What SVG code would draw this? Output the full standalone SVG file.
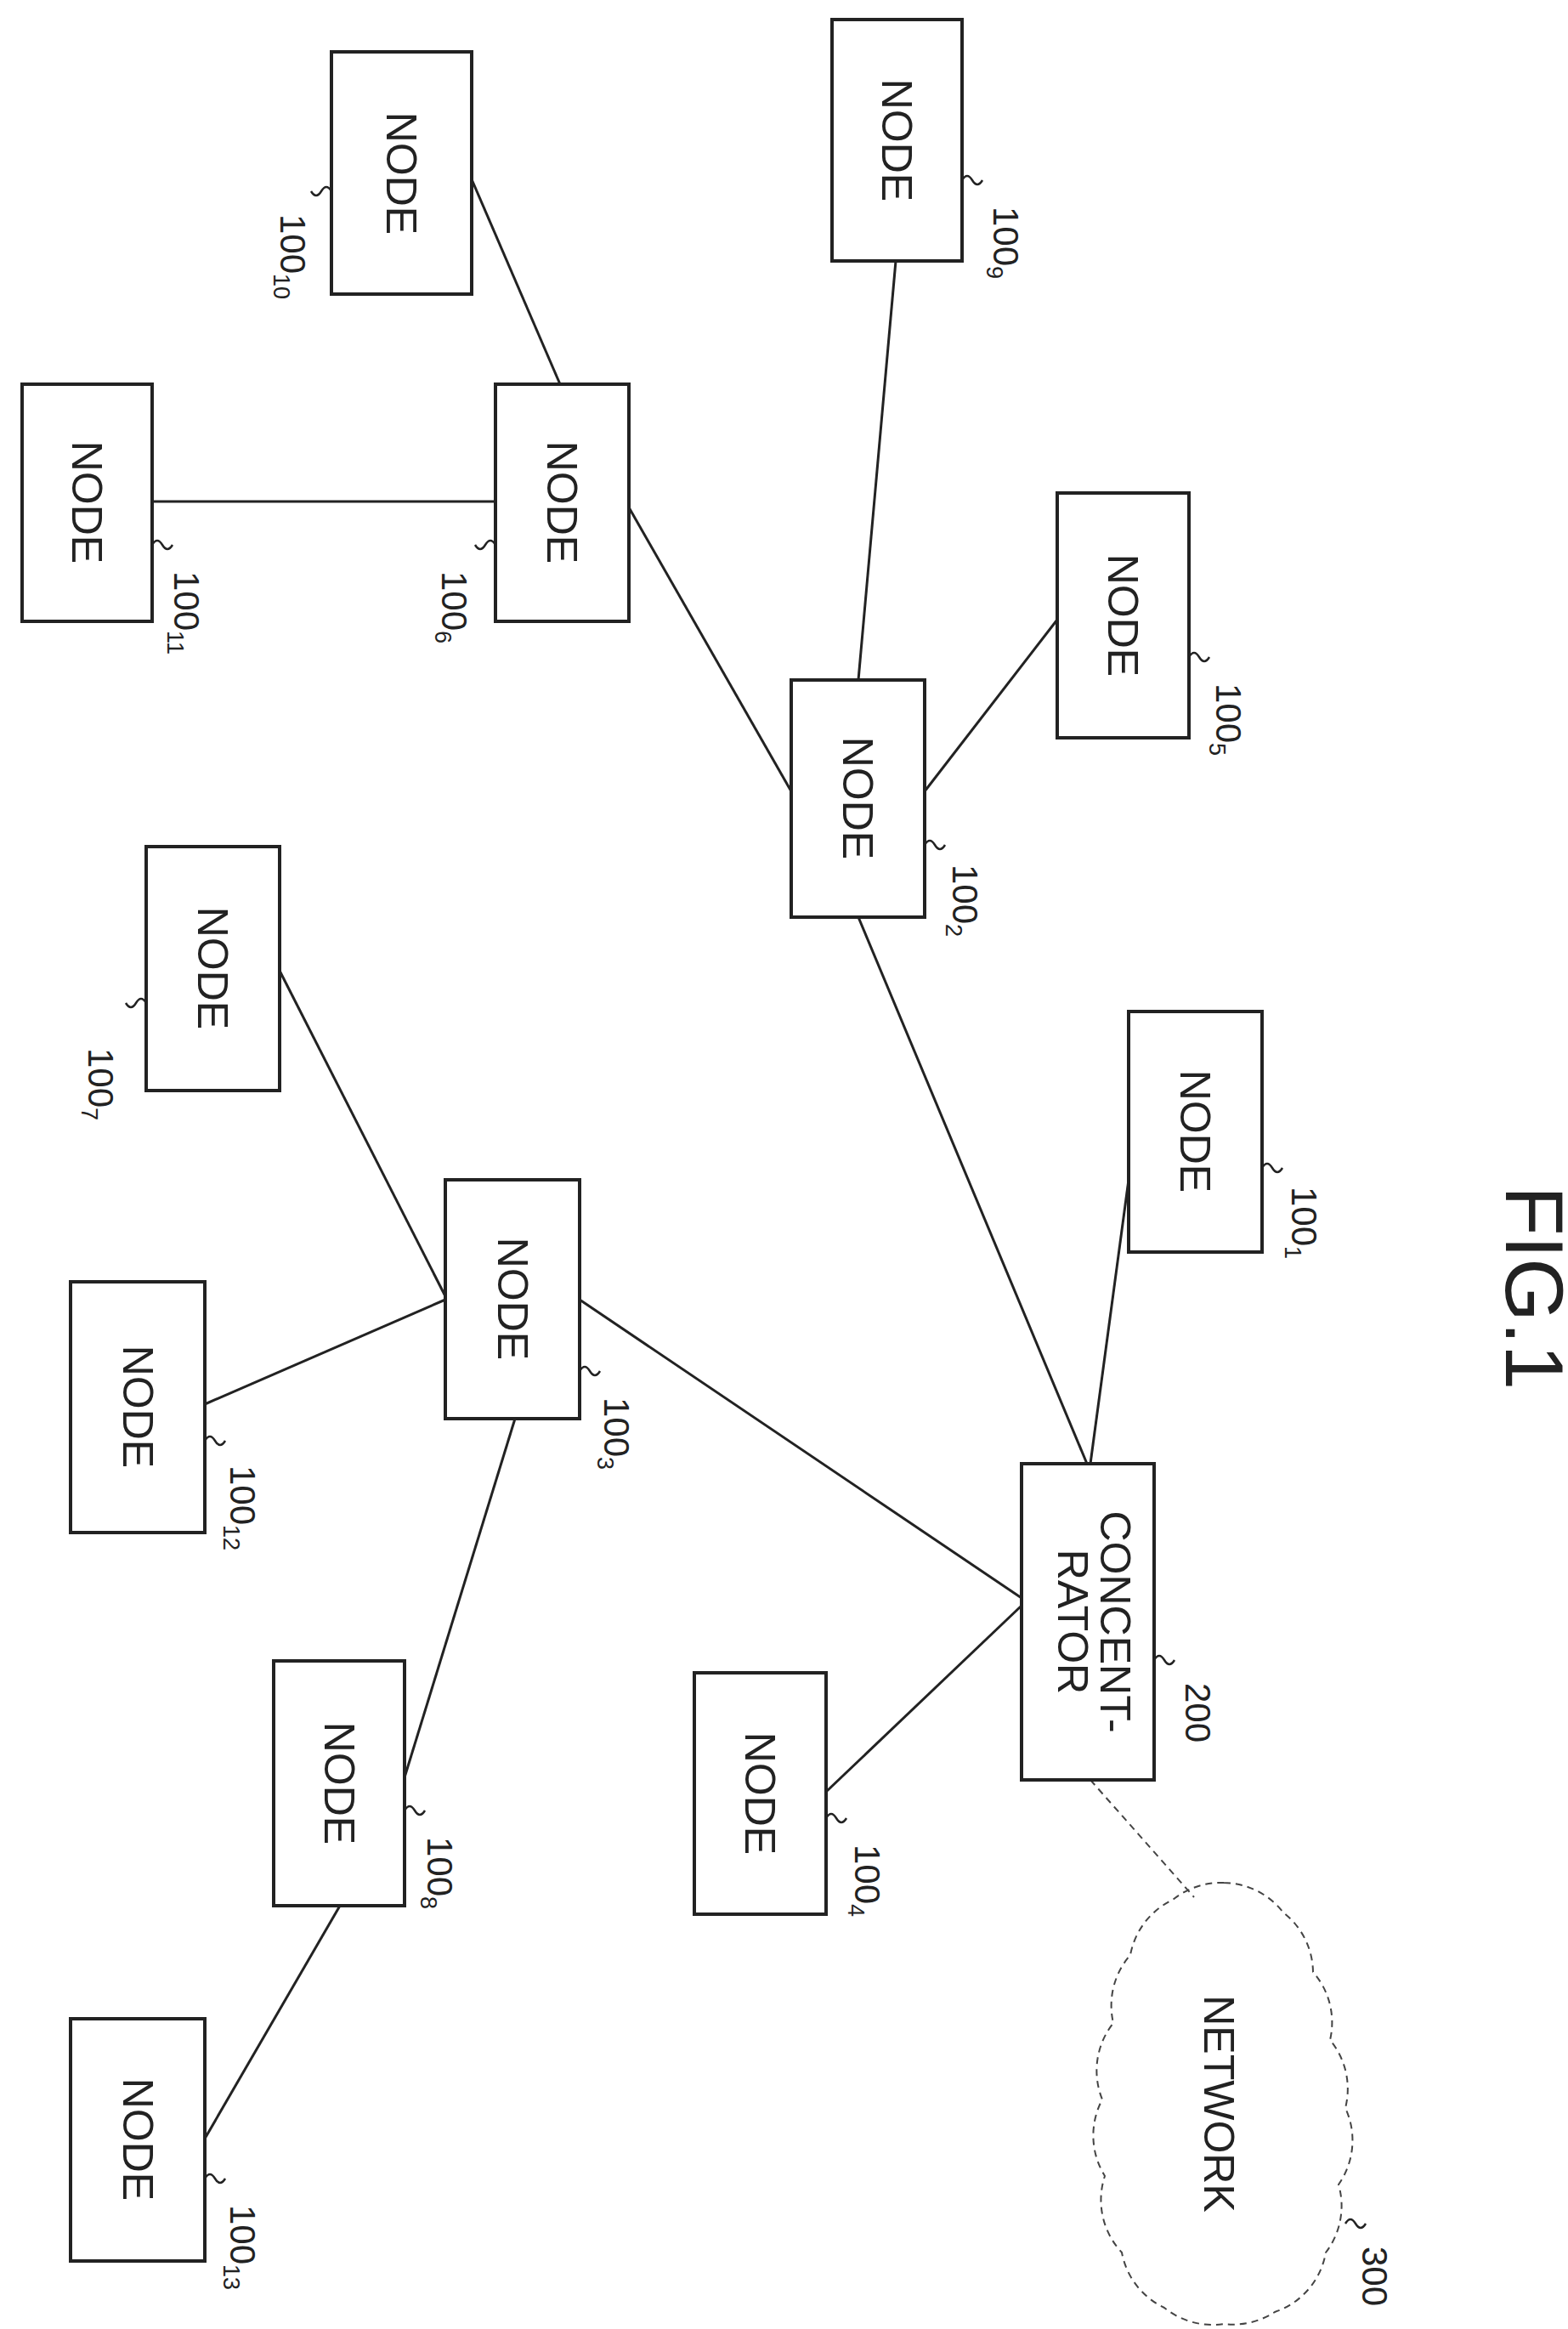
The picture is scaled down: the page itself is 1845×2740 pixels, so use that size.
<svg xmlns="http://www.w3.org/2000/svg" width="1845" height="2740" viewBox="0 0 1845 2740">
<style>
.b{fill:#fff;stroke:#222;stroke-width:4}
.t{font-family:"Liberation Sans",Arial,sans-serif;font-size:50px;fill:#222;text-anchor:middle}
.l{font-family:"Liberation Sans",Arial,sans-serif;font-size:42px;fill:#222}
.s{font-size:27px}
.c{stroke:#222;stroke-width:3;fill:none}
.q{stroke:#222;stroke-width:2.5;fill:none}
.d{stroke:#444;stroke-width:2;fill:none;stroke-dasharray:8 6}
</style>
<rect width="1845" height="2740" fill="#fff"/>
<g id="connectors">
<line class="c" x1="555" y1="211" x2="659" y2="452"/>
<line class="c" x1="179" y1="590" x2="583" y2="590"/>
<line class="c" x1="740" y1="597" x2="931" y2="931"/>
<line class="c" x1="1054" y1="307" x2="1010" y2="800"/>
<line class="c" x1="1244" y1="729" x2="1088" y2="931"/>
<line class="c" x1="1010" y1="1079" x2="1279" y2="1722"/>
<line class="c" x1="1328" y1="1388" x2="1283" y2="1722"/>
<line class="c" x1="329" y1="1142" x2="524" y2="1525"/>
<line class="c" x1="241" y1="1652" x2="524" y2="1529"/>
<line class="c" x1="682" y1="1529" x2="1202" y2="1880"/>
<line class="c" x1="606" y1="1669" x2="476" y2="2091"/>
<line class="c" x1="972" y1="2108" x2="1202" y2="1889"/>
<line class="c" x1="400" y1="2242" x2="241" y2="2516"/>
<line class="d" x1="1283" y1="2094" x2="1405" y2="2232"/>
</g>
<g id="n10"><rect class="b" x="390" y="61" width="165" height="285"/><text class="t" transform="translate(472,204) rotate(90)" dy="0.35em">NODE</text>
<path class="q" d="M390,225 q-6,-10 -12,0 q-6,10 -12,0"/><text class="l" transform="translate(345,252) rotate(90)" dy="0.35em">100<tspan class="s" dy="8">10</tspan></text></g>
<g id="n9"><rect class="b" x="979" y="23" width="153" height="284"/><text class="t" transform="translate(1055,165) rotate(90)" dy="0.35em">NODE</text>
<path class="q" d="M1132,212 q6,-10 12,0 q6,10 12,0"/><text class="l" transform="translate(1184,243) rotate(90)" dy="0.35em">100<tspan class="s" dy="8">9</tspan></text></g>
<g id="n11"><rect class="b" x="26" y="452" width="153" height="279"/><text class="t" transform="translate(102,591) rotate(90)" dy="0.35em">NODE</text>
<path class="q" d="M179,641 q6,-10 12,0 q6,10 12,0"/><text class="l" transform="translate(220,672) rotate(90)" dy="0.35em">100<tspan class="s" dy="8">11</tspan></text></g>
<g id="n6"><rect class="b" x="583" y="452" width="157" height="279"/><text class="t" transform="translate(661,591) rotate(90)" dy="0.35em">NODE</text>
<path class="q" d="M583,641 q-6,-10 -12,0 q-6,10 -12,0"/><text class="l" transform="translate(535,672) rotate(90)" dy="0.35em">100<tspan class="s" dy="8">6</tspan></text></g>
<g id="n5"><rect class="b" x="1244" y="580" width="155" height="288"/><text class="t" transform="translate(1321,724) rotate(90)" dy="0.35em">NODE</text>
<path class="q" d="M1399,773 q6,-10 12,0 q6,10 12,0"/><text class="l" transform="translate(1446,804) rotate(90)" dy="0.35em">100<tspan class="s" dy="8">5</tspan></text></g>
<g id="n2"><rect class="b" x="931" y="800" width="157" height="279"/><text class="t" transform="translate(1009,939) rotate(90)" dy="0.35em">NODE</text>
<path class="q" d="M1088,994 q6,-10 12,0 q6,10 12,0"/><text class="l" transform="translate(1136,1017) rotate(90)" dy="0.35em">100<tspan class="s" dy="8">2</tspan></text></g>
<g id="n7"><rect class="b" x="172" y="996" width="157" height="287"/><text class="t" transform="translate(250,1139) rotate(90)" dy="0.35em">NODE</text>
<path class="q" d="M172,1180 q-6,-10 -12,0 q-6,10 -12,0"/><text class="l" transform="translate(119,1233) rotate(90)" dy="0.35em">100<tspan class="s" dy="8">7</tspan></text></g>
<g id="n1"><rect class="b" x="1328" y="1190" width="157" height="283"/><text class="t" transform="translate(1406,1331) rotate(90)" dy="0.35em">NODE</text>
<path class="q" d="M1485,1374 q6,-10 12,0 q6,10 12,0"/><text class="l" transform="translate(1535,1396) rotate(90)" dy="0.35em">100<tspan class="s" dy="8">1</tspan></text></g>
<g id="n3"><rect class="b" x="524" y="1388" width="158" height="281"/><text class="t" transform="translate(603,1528) rotate(90)" dy="0.35em">NODE</text>
<path class="q" d="M682,1613 q6,-10 12,0 q6,10 12,0"/><text class="l" transform="translate(726,1644) rotate(90)" dy="0.35em">100<tspan class="s" dy="8">3</tspan></text></g>
<g id="n12"><rect class="b" x="83" y="1508" width="158" height="295"/><text class="t" transform="translate(162,1655) rotate(90)" dy="0.35em">NODE</text>
<path class="q" d="M241,1695 q6,-10 12,0 q6,10 12,0"/><text class="l" transform="translate(286,1724) rotate(90)" dy="0.35em">100<tspan class="s" dy="8">12</tspan></text></g>
<g id="c200"><rect class="b" x="1202" y="1722" width="156" height="372"/>
<text class="t" transform="translate(1312,1908) rotate(90)" dy="0.35em">CONCENT-</text>
<text class="t" transform="translate(1262,1908) rotate(90)" dy="0.35em">RATOR</text>
<path class="q" d="M1358,1953 q6,-10 12,0 q6,10 12,0"/><text class="l" transform="translate(1410,1980) rotate(90)" dy="0.35em">200</text></g>
<g id="n8"><rect class="b" x="322" y="1954" width="154" height="288"/><text class="t" transform="translate(399,2098) rotate(90)" dy="0.35em">NODE</text>
<path class="q" d="M476,2130 q6,-10 12,0 q6,10 12,0"/><text class="l" transform="translate(518,2161) rotate(90)" dy="0.35em">100<tspan class="s" dy="8">8</tspan></text></g>
<g id="n4"><rect class="b" x="817" y="1968" width="155" height="284"/><text class="t" transform="translate(894,2110) rotate(90)" dy="0.35em">NODE</text>
<path class="q" d="M972,2139 q6,-10 12,0 q6,10 12,0"/><text class="l" transform="translate(1021,2170) rotate(90)" dy="0.35em">100<tspan class="s" dy="8">4</tspan></text></g>
<g id="n13"><rect class="b" x="83" y="2375" width="158" height="285"/><text class="t" transform="translate(162,2517) rotate(90)" dy="0.35em">NODE</text>
<path class="q" d="M241,2563 q6,-10 12,0 q6,10 12,0"/><text class="l" transform="translate(286,2594) rotate(90)" dy="0.35em">100<tspan class="s" dy="8">13</tspan></text></g>
<g id="net300">
<path class="d" d="M1440,2215 A90,90 0 0 1 1510,2250 A90,90 0 0 1 1545,2320 A90,90 0 0 1 1565,2400 A90,90 0 0 1 1583,2480 A90,90 0 0 1 1575,2570 A90,90 0 0 1 1560,2650 A90,90 0 0 1 1500,2720 A90,90 0 0 1 1440,2734 A90,90 0 0 1 1370,2715 A90,90 0 0 1 1320,2650 A90,90 0 0 1 1300,2560 A90,90 0 0 1 1297,2470 A90,90 0 0 1 1310,2380 A90,90 0 0 1 1330,2300 A90,90 0 0 1 1380,2235 A90,90 0 0 1 1440,2215 Z"/>
<text class="t" transform="translate(1434,2475) rotate(90)" dy="0.35em">NETWORK</text>
<path class="q" d="M1583,2616 q6,-10 12,0 q6,10 12,0"/><text class="l" transform="translate(1618,2643) rotate(90)" dy="0.35em">300</text></g>
<text class="t" style="font-size:96px" transform="translate(1806,1515) rotate(90)" dy="0.35em">FIG.1</text>
</svg>
